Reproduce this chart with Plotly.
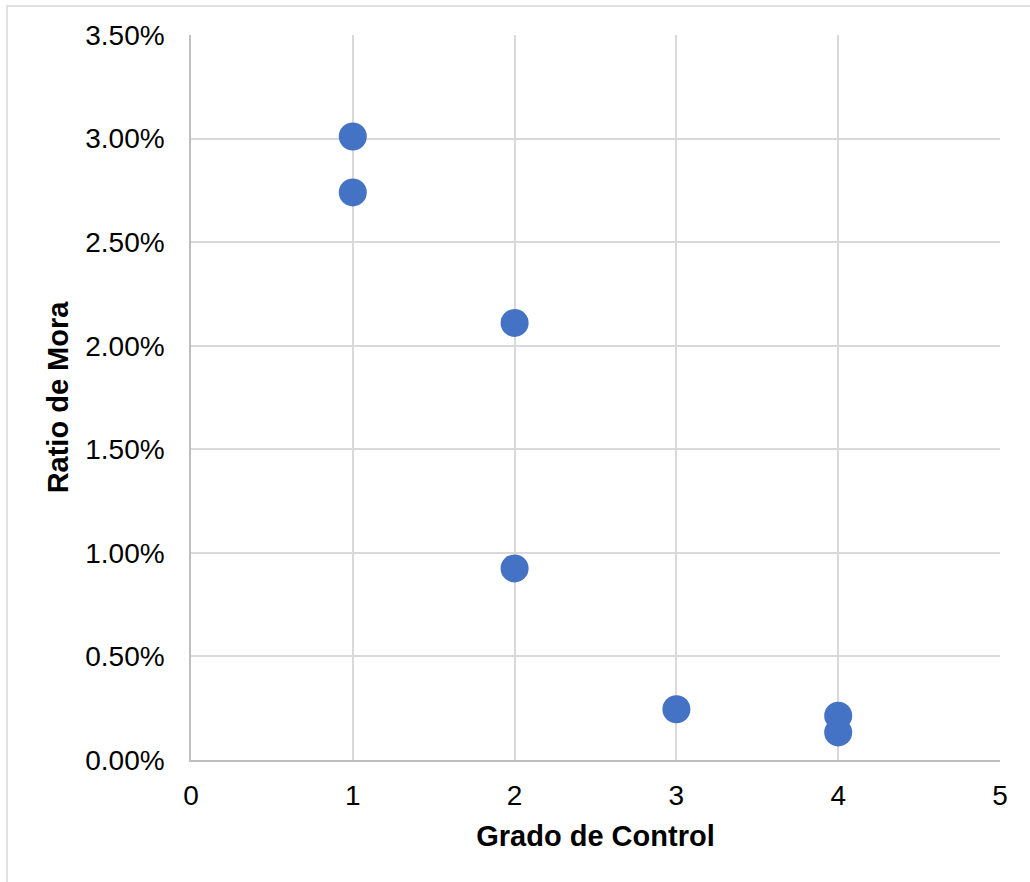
import plotly.graph_objects as go

# Grado de control vs. ratio de mora
grado_control = [1, 1, 2, 2, 3, 4, 4]
ratio_mora = [0.0301, 0.0274, 0.0211, 0.00925, 0.00245, 0.00214, 0.00133]

x_ticks = [0, 1, 2, 3, 4, 5]
y_ticks = [0, 0.005, 0.01, 0.015, 0.02, 0.025, 0.03, 0.035]

W, H = 1030, 882
ml, mr, mt, mb = 191, 30, 35, 122
pw, ph = W - ml - mr, H - mt - mb

fig = go.Figure(
    go.Scatter(
        x=grado_control,
        y=ratio_mora,
        mode="markers",
        marker=dict(color="#4472C4", size=28, line=dict(width=0)),
        cliponaxis=False,
    )
)

font = "Liberation Sans, Arial, sans-serif"
grid = "#D9D9D9"

fig.update_layout(
    width=W,
    height=H,
    margin=dict(l=ml, r=mr, t=mt, b=mb),
    paper_bgcolor="white",
    plot_bgcolor="white",
    showlegend=False,
    font=dict(family=font, color="#000000", size=28),
    xaxis=dict(
        range=[0, 5],
        tickvals=x_ticks,
        ticktext=[str(v) for v in x_ticks],
        showgrid=True,
        gridcolor=grid,
        gridwidth=1.5,
        zeroline=False,
        showline=True,
        linecolor="#BFBFBF",
        linewidth=1.5,
        ticks="",
        ticklabelstandoff=10,
        tickfont=dict(size=28),
        title=dict(text="<b>Grado de Control</b>", font=dict(size=29), standoff=15),
    ),
    yaxis=dict(
        range=[0, 0.035],
        tickvals=y_ticks,
        tickformat=".2%",
        showgrid=True,
        gridcolor=grid,
        gridwidth=1.5,
        zeroline=False,
        showline=True,
        linecolor="#BFBFBF",
        linewidth=1.5,
        ticks="",
        ticklabelstandoff=19,
        tickfont=dict(size=28),
        title=dict(text="<b>Ratio de Mora</b>", font=dict(size=29), standoff=8),
    ),
)

# Outer chart frame
fig.add_shape(
    type="rect",
    xref="paper",
    yref="paper",
    x0=(7 - ml) / pw,
    x1=(W + 5 - ml) / pw,
    y0=-(H + 5 - mt - ph) / ph,
    y1=1 + (mt - 6) / ph,
    line=dict(color="#D9D9D9", width=1.5),
    layer="below",
)

fig.write_html("out.html")
